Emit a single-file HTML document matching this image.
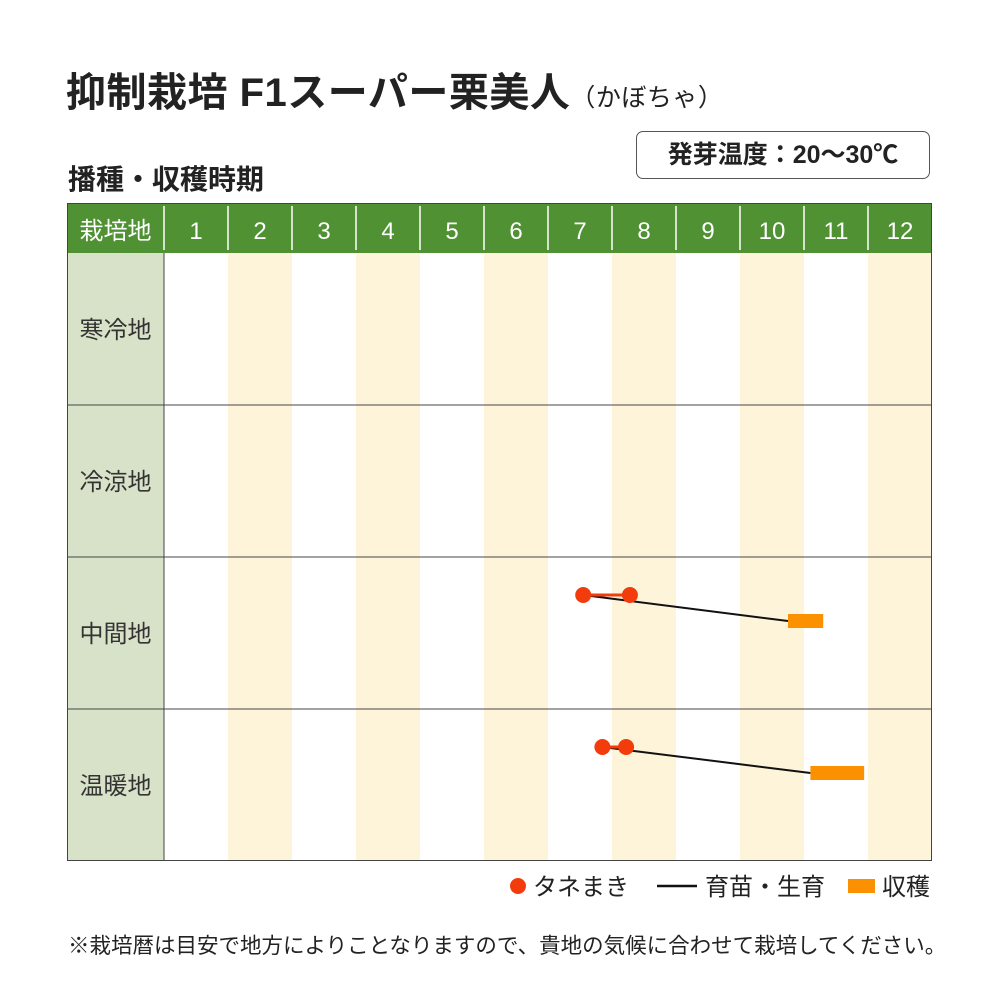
<!DOCTYPE html>
<html><head><meta charset="utf-8"><style>
body{margin:0;background:#fff;font-family:"Liberation Sans","Noto Sans CJK JP",sans-serif;}
#wrap{position:relative;width:1000px;height:1000px;}
.t{position:absolute;white-space:nowrap;color:#222;}
</style></head><body>
<div id="wrap">
<div class="t" style="left:66px;top:60px;font-size:40px;font-weight:bold;letter-spacing:0.5px;">抑制栽培 F1スーパー栗美人<span style="font-size:25px;font-weight:normal;">（かぼちゃ）</span></div>
<div class="t" style="left:68px;top:158px;font-size:28px;font-weight:bold;">播種・収穫時期</div>
<div class="t" style="left:636px;top:131px;width:294px;height:48px;border:1.5px solid #555;border-radius:7px;box-sizing:border-box;font-size:25px;text-align:center;line-height:46px;font-weight:bold;">発芽温度：20〜30℃</div>
<svg id="chart" width="1000" height="1000" style="position:absolute;left:0;top:0;pointer-events:none"></svg>
<div class="t" style="left:68px;top:929px;font-size:21.5px;">※栽培暦は目安で地方によりことなりますので、貴地の気候に合わせて栽培してください。</div>
</div>
<script>
const months=["1","2","3","4","5","6","7","8","9","10","11","12"];
const regions=["寒冷地","冷涼地","中間地","温暖地"];
// positions in months from Jan 1 (0 = start of Jan)
const sowStart=[null,null,6.55,6.85];
const sowEnd=[null,null,7.28,7.22];
const growEnd=[null,null,9.75,10.1];
const harvestEnd=[null,null,10.3,10.94];
const NS="http://www.w3.org/2000/svg";
const svg=document.getElementById('chart');
const X0=164,CW=64,L=67,R=932,HT=203,HB=253,RH=152;
const xm=m=>X0+m*CW;
const yr=i=>HB+i*RH;
function mk(t,a){const e=document.createElementNS(NS,t);for(const k in a)e.setAttribute(k,a[k]);svg.appendChild(e);return e;}
months.forEach((m,i)=>{if(i%2==1){const r=mk('rect',{x:xm(i),y:HB,width:CW,height:RH*4,fill:'#fdf4da'});

}});
const lc=mk('rect',{x:L,y:HB,width:X0-L,height:RH*4,fill:'#d8e2c8'});


const hd=mk('rect',{x:L,y:HT,width:R-L,height:HB-HT,fill:'#4f9133'});


const ht=mk('text',{x:(L+X0)/2,y:239,'font-size':24,fill:'#fff','text-anchor':'middle'});ht.textContent='栽培地';


months.forEach((m,i)=>{
 const l=mk('line',{x1:xm(i),x2:xm(i),y1:HT+3,y2:HB-3,stroke:'#fff','stroke-width':1.5});
 
 
 const t=mk('text',{x:xm(i)+CW/2,y:239,'font-size':24,fill:'#fff','text-anchor':'middle'});t.textContent=m;
 
 
});
regions.forEach((r,i)=>{
 const t=mk('text',{x:(L+X0)/2,y:yr(i)+RH/2+9,'font-size':24,fill:'#333','text-anchor':'middle'});t.textContent=r;
 
 
 if(i>0){const l=mk('line',{x1:L,x2:R,y1:yr(i),y2:yr(i),stroke:'#444','stroke-width':1});
 
 }
});
const ln=mk('line',{x1:X0,x2:X0,y1:HB,y2:yr(4),stroke:'#444','stroke-width':1});


const bd=mk('rect',{x:L+0.5,y:HT+0.5,width:R-L-1,height:yr(4)-HT-1,fill:'none',stroke:'#444','stroke-width':1});


regions.forEach((r,i)=>{
 if(sowStart[i]==null)return;
 const yd=yr(i)+38,yh=yr(i)+64;
 const g=mk('line',{x1:xm(sowStart[i]),y1:yd,x2:xm(growEnd[i]),y2:yh,stroke:'#111','stroke-width':2});
 
 
 const s=mk('line',{x1:xm(sowStart[i]),y1:yd,x2:xm(sowEnd[i]),y2:yd,stroke:'#f23c0c','stroke-width':3});
 
 
 [sowStart[i],sowEnd[i]].forEach(v=>{const c=mk('circle',{cx:xm(v),cy:yd,r:8,fill:'#f23c0c'});
 
 });
 const h=mk('rect',{x:xm(growEnd[i]),y:yh-7,width:xm(harvestEnd[i])-xm(growEnd[i]),height:14,fill:'#fb9100'});
 
 
});
const lg=[['circle',{cx:518,cy:886,r:8,fill:'#f23c0c'},'タネまき',533],['line',{x1:657,x2:697,y1:886,y2:886,stroke:'#111','stroke-width':2.5},'育苗・生育',705],['rect',{x:848,y:879,width:27,height:14,fill:'#fb9100'},'収穫',882]];
lg.forEach(d=>{const e=mk(d[0],d[1]);
 
 
 const t=mk('text',{x:d[3],y:895,'font-size':24,fill:'#222'});t.textContent=d[2];
 
 });
</script>
</body></html>
